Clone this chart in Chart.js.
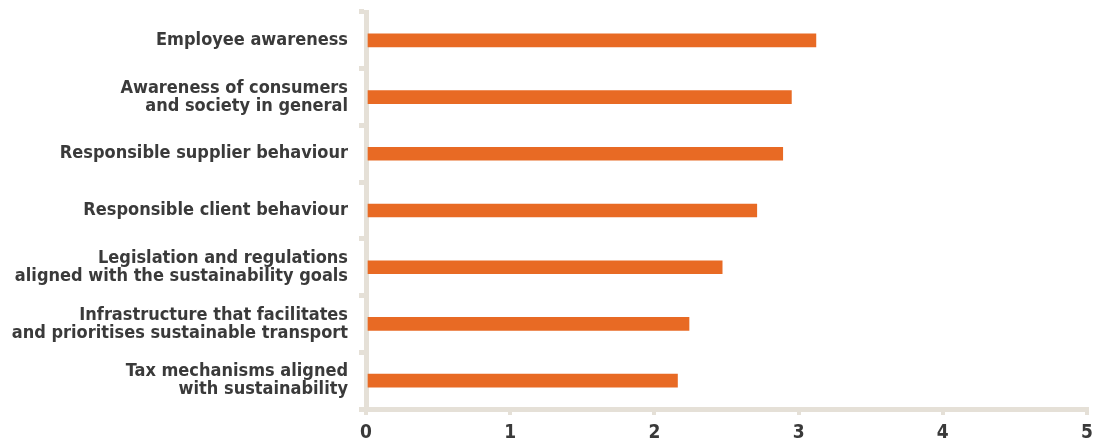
<!DOCTYPE html>
<html>
<head>
<meta charset="utf-8">
<script src="https://cdn.jsdelivr.net/npm/chart.js@4"></script>
<style>
  html, body { margin: 0; padding: 0; background: #fff; }
  #wrap { width: 1094px; height: 443px; }
</style>
</head>
<body>
<div id="wrap"><canvas id="chart"></canvas></div>
<script>
const categories = [
    'Employee awareness',
    ['Awareness of consumers', 'and society in general'],
    'Responsible supplier behaviour',
    'Responsible client behaviour',
    ['Legislation and regulations', 'aligned with the sustainability goals'],
    ['Infrastructure that facilitates', 'and prioritises sustainable transport'],
    ['Tax mechanisms aligned', 'with sustainability']
];
const scores = [3.12, 2.95, 2.89, 2.71, 2.47, 2.24, 2.16];
const tickValues = [0, 1, 2, 3, 4, 5];

const axisColor = '#e5e0d7';
const textColor = '#3a3a3a';
const labelFont = 'DejaVu Sans Condensed';

const ctx = document.querySelector('#chart').getContext('2d');

new Chart(ctx, {
    type: 'bar',
    data: {
        labels: categories,
        datasets: [
            {
                data: scores,
                backgroundColor: '#e86a24',
                barThickness: 13
            }
        ]
    },
    options: {
        indexAxis: 'y',
        responsive: true,
        maintainAspectRatio: false,
        animation: false,
        layout: { padding: { top: 12, right: 7, left: 0, bottom: 0 } },
        plugins: {
            legend: { display: false },
            tooltip: { enabled: false }
        },
        scales: {
            x: {
                min: 0,
                max: 5,
                afterBuildTicks: (scale) => {
                    scale.ticks = tickValues.map(v => ({ value: v }));
                },
                afterFit: (scale) => {
                    scale.height = 34;
                    scale.paddingLeft = 0;
                    scale.paddingRight = 0;
                },
                border: { color: axisColor, width: 5 },
                grid: {
                    drawOnChartArea: false,
                    color: axisColor,
                    lineWidth: 4,
                    tickLength: 6
                },
                ticks: {
                    color: textColor,
                    padding: 7,
                    font: { family: labelFont, size: 19, weight: 'bold' }
                }
            },
            y: {
                afterFit: (scale) => {
                    scale.width = 366;
                    scale.paddingTop = 0;
                    scale.paddingBottom = 0;
                },
                border: { color: axisColor, width: 5 },
                grid: {
                    drawOnChartArea: false,
                    color: axisColor,
                    lineWidth: 5,
                    tickLength: 7
                },
                ticks: {
                    color: textColor,
                    padding: 11,
                    font: { family: labelFont, size: 18, weight: 'bold', lineHeight: 1.0 }
                }
            }
        }
    }
});
</script>
</body>
</html>
